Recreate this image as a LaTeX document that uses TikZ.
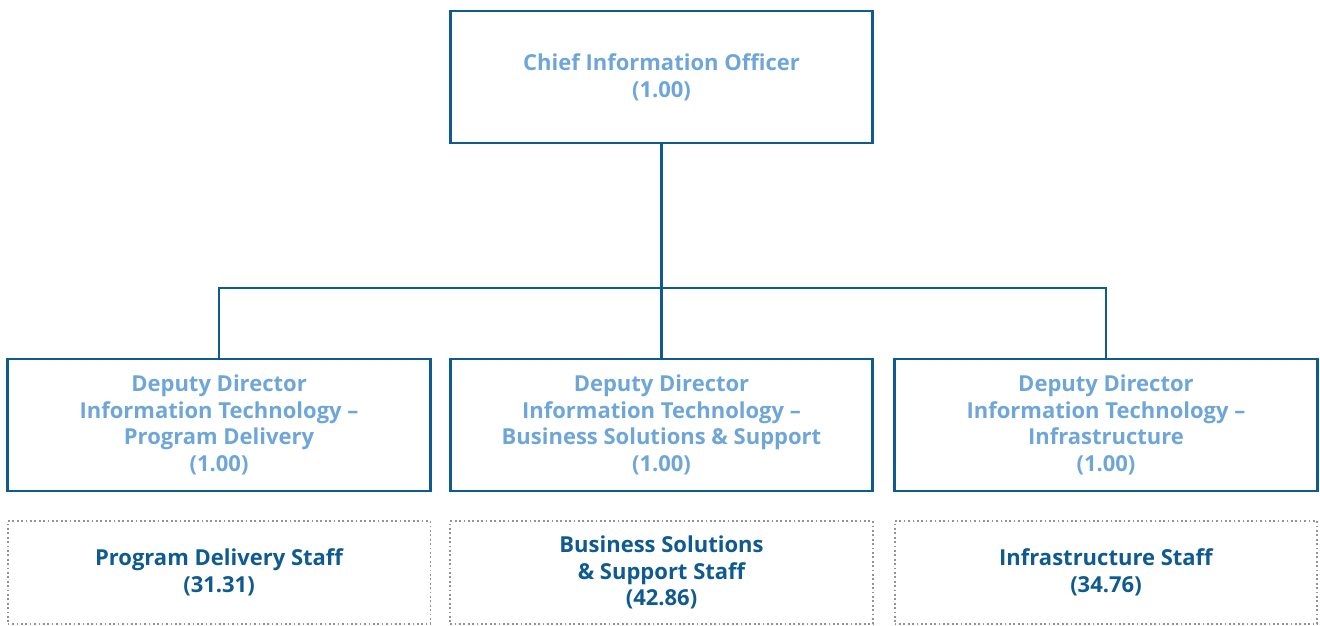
\documentclass[tikz,border=0pt]{standalone}
\usepackage{fontspec}
\setmainfont{Open Sans}
\usetikzlibrary{positioning}
\definecolor{ciodark}{HTML}{0F5A8E}
\definecolor{ciolight}{HTML}{6FA6D8}
\tikzset{
  lbl/.style  ={font=\bfseries\fontsize{16.5}{20}\selectfont, align=center, inner sep=0pt},
  box/.style  ={lbl, draw=ciodark, line width=2.1pt, minimum width=317pt, minimum height=99pt, text=ciolight},
  staff/.style={lbl, draw=gray!85, dotted, line width=1.3pt, minimum width=317pt, minimum height=77pt, text=ciodark},
  link/.style ={draw=ciodark, line width=2.1pt}
}

\begin{document}
\begin{tikzpicture}[x=0.75pt, y=-0.75pt]
\useasboundingbox (0,0) rectangle (1320,625);
\node[box] (cio) at (661.5,77) {Chief Information Officer\\(1.00)};
\node[box] (dd2) at (661.5,425) {Deputy Director\\Information Technology --\\Business Solutions \& Support\\(1.00)};
\node[box, left=12.75pt of dd2]  (dd1) {Deputy Director\\Information Technology --\\Program Delivery\\(1.00)};
\node[box, right=14.25pt of dd2] (dd3) {Deputy Director\\Information Technology --\\Infrastructure\\(1.00)};
\node[staff, below=21pt of dd1] (st1) {Program Delivery Staff\\(31.31)};
\node[staff, below=21pt of dd2] (st2) {Business Solutions\\\& Support Staff\\(42.86)};
\node[staff, below=21pt of dd3] (st3) {Infrastructure Staff\\(34.76)};
\coordinate (bar) at (0,288);
% reporting lines
\draw[link] (cio.south) -- (dd2.north);
\draw[link] (dd1.north) -- (dd1.north |- bar) -- (dd3.north |- bar) -- (dd3.north);
\end{tikzpicture}
\end{document}
